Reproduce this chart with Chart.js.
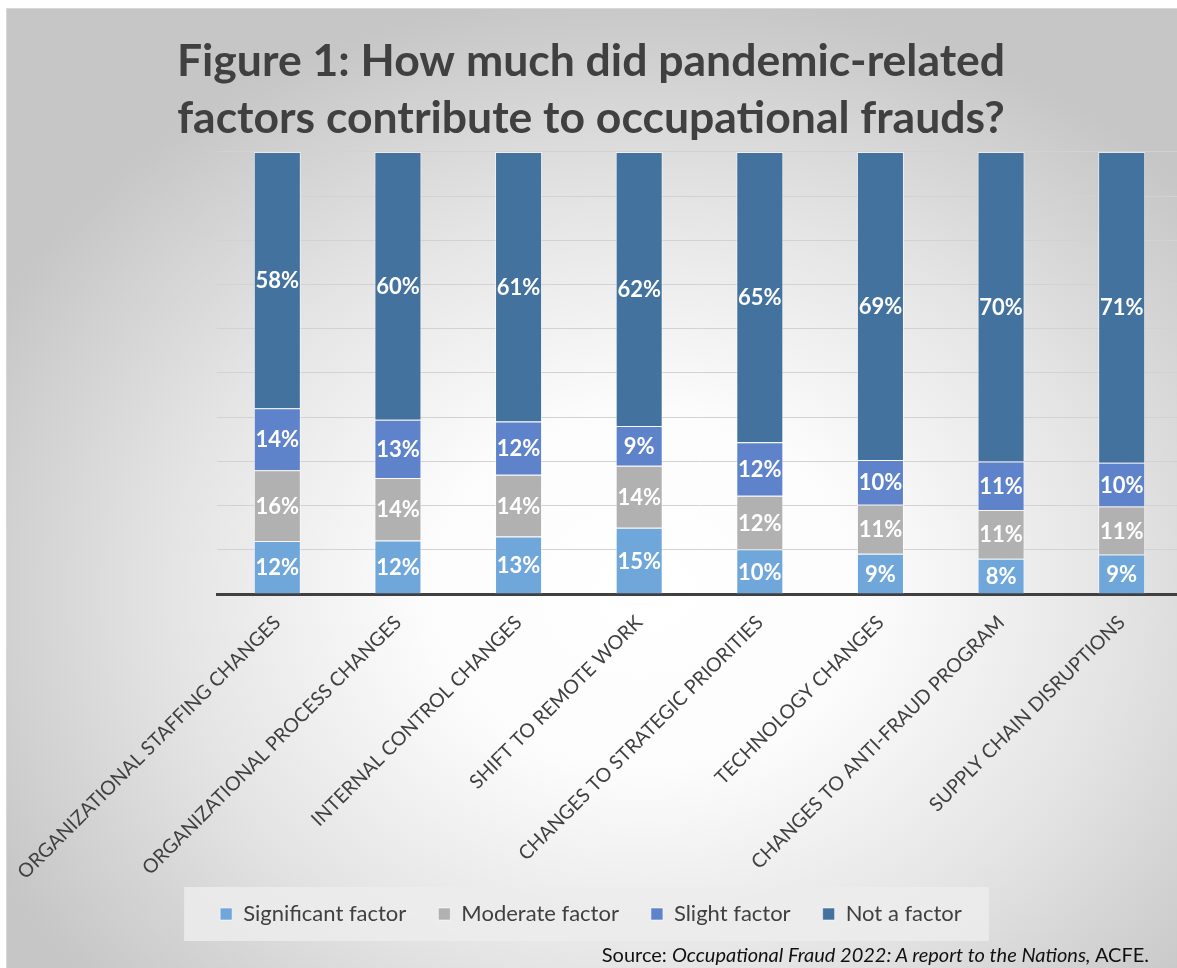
<!DOCTYPE html>
<html lang="en">
<head>
<meta charset="UTF-8">
<title>Pandemic-related factors in occupational fraud</title>
<script src="https://cdn.jsdelivr.net/npm/chart.js"></script>
<style>
  html, body { margin: 0; padding: 0; overflow: hidden; background: #fff; }
  body { width: 1177px; height: 968px; position: relative; font-family: Lato, "Open Sans", sans-serif; }
  #frame {
    position: absolute; left: 6px; top: 8px; width: 1180px; height: 970px;
    border-top: 1px solid #d8d8d8; border-left: 1px solid #d8d8d8;
    background: radial-gradient(ellipse 62% 62% at 54% 60%, #ffffff 0%, #fcfcfc 30%, #e4e4e4 65%, #c6c6c6 100%);
  }
  #wrap { position: absolute; left: 0; top: 0; width: 1185px; height: 968px; }
  #source {
    position: absolute; right: 28px; top: 942px; font-size: 20px; color: #111;
    font-family: Lato, sans-serif; white-space: nowrap;
  }
</style>
</head>
<body>
<div id="frame"></div>
<div id="wrap"><canvas id="fraudChart"></canvas></div>
<div id="source">Source: <i>Occupational Fraud 2022: A report to the Nations,</i> ACFE.</div>

<script>
// categories (x axis)
const factors = [
  "ORGANIZATIONAL STAFFING CHANGES",
  "ORGANIZATIONAL PROCESS CHANGES",
  "INTERNAL CONTROL CHANGES",
  "SHIFT TO REMOTE WORK",
  "CHANGES TO STRATEGIC PRIORITIES",
  "TECHNOLOGY CHANGES",
  "CHANGES TO ANTI-FRAUD PROGRAM",
  "SUPPLY CHAIN DISRUPTIONS"
];

// percentages
const significantFactor = [12, 12, 13, 15, 10, 9, 8, 9];
const moderateFactor    = [16, 14, 14, 14, 12, 11, 11, 11];
const slightFactor      = [14, 13, 12, 9, 12, 10, 11, 10];
const notAFactor        = [58, 60, 61, 62, 65, 69, 70, 71];

const seriesNames  = ["Significant factor", "Moderate factor", "Slight factor", "Not a factor"];
const seriesColors = ["#70a7da", "#b1b1b1", "#5f83cb", "#44729f"];
const allSeries = [significantFactor, moderateFactor, slightFactor, notAFactor];

// 100% stacked: each column is scaled to its own total
const totals = factors.map((_, i) => allSeries.reduce((s, arr) => s + arr[i], 0));

const datasets = allSeries.map((vals, k) => ({
  label: seriesNames[k],
  data: vals.map((v, i) => v / totals[i] * 100),
  raw: vals,
  backgroundColor: seriesColors[k],
  borderColor: "rgba(255,255,255,0.55)",
  borderWidth: 1,
  barPercentage: 0.39,
  categoryPercentage: 1.0
}));

// white percentage labels in the middle of each segment
const segmentLabels = {
  id: "segmentLabels",
  afterDatasetsDraw(chart) {
    const ctx = chart.ctx;
    ctx.save();
    ctx.font = "bold 22px Lato";
    ctx.fillStyle = "#ffffff";
    ctx.textAlign = "center";
    ctx.textBaseline = "middle";
    chart.data.datasets.forEach((ds, k) => {
      chart.getDatasetMeta(k).data.forEach((bar, i) => {
        const y = (bar.y + bar.base) / 2;
        ctx.fillText(ds.raw[i] + "%", bar.x, y + 1);
      });
    });
    ctx.restore();
  }
};

// light panel behind the legend
const legendPanel = {
  id: "legendPanel",
  afterLayout(chart) {
    // long rotated labels run a little past the axis box; don't clip them
    chart.scales.x.bottom += 30;
  },
  beforeDraw(chart) {
    const boxes = chart.legend && chart.legend.legendHitBoxes;
    if (!boxes || !boxes.length) return;
    const first = boxes[0], last = boxes[boxes.length - 1];
    const ctx = chart.ctx;
    ctx.save();
    ctx.fillStyle = "rgba(236,236,236,0.85)";
    ctx.fillRect(first.left - 36, first.top - 16, last.left + last.width - first.left + 63, first.height + 32);
    ctx.restore();
  }
};

new Chart(document.getElementById("fraudChart"), {
  type: "bar",
  data: { labels: factors, datasets },
  plugins: [segmentLabels, legendPanel],
  options: {
    responsive: true,
    maintainAspectRatio: false,
    animation: false,
    layout: { padding: { left: 0, right: 3, top: 0, bottom: 33 } },
    plugins: {
      title: {
        display: true,
        text: ["Figure 1: How much did pandemic-related", "factors contribute to occupational frauds?"],
        color: "#404040",
        font: { family: "Lato", size: 44.5, weight: "bold", lineHeight: 1.28 },
        padding: { top: 33, bottom: 5 }
      },
      legend: {
        position: "bottom",
        labels: {
          color: "#404040",
          font: { family: "Lato", size: 22 },
          boxWidth: 12,
          boxHeight: 12,
          padding: 32
        }
      },
      tooltip: { enabled: false }
    },
    scales: {
      x: {
        stacked: true,
        grid: { display: false },
        border: { display: true, color: "#404040", width: 3 },
        ticks: {
          color: "#404040",
          font: { family: "Lato", size: 19.5 },
          minRotation: 45,
          maxRotation: 45,
          autoSkip: false,
          labelOffset: 0,
          padding: 9
        },
        afterFit(scale) {
          scale.height = 277;
          scale.paddingLeft = 0;
          scale.paddingRight = 0;
        }
      },
      y: {
        stacked: true,
        min: 0,
        max: 100,
        border: { display: false },
        grid: { color: "#d2d2d2", lineWidth: 1, drawTicks: false },
        ticks: { display: false, stepSize: 10 },
        afterFit(scale) { scale.width = 217; }
      }
    }
  }
});
</script>
</body>
</html>
